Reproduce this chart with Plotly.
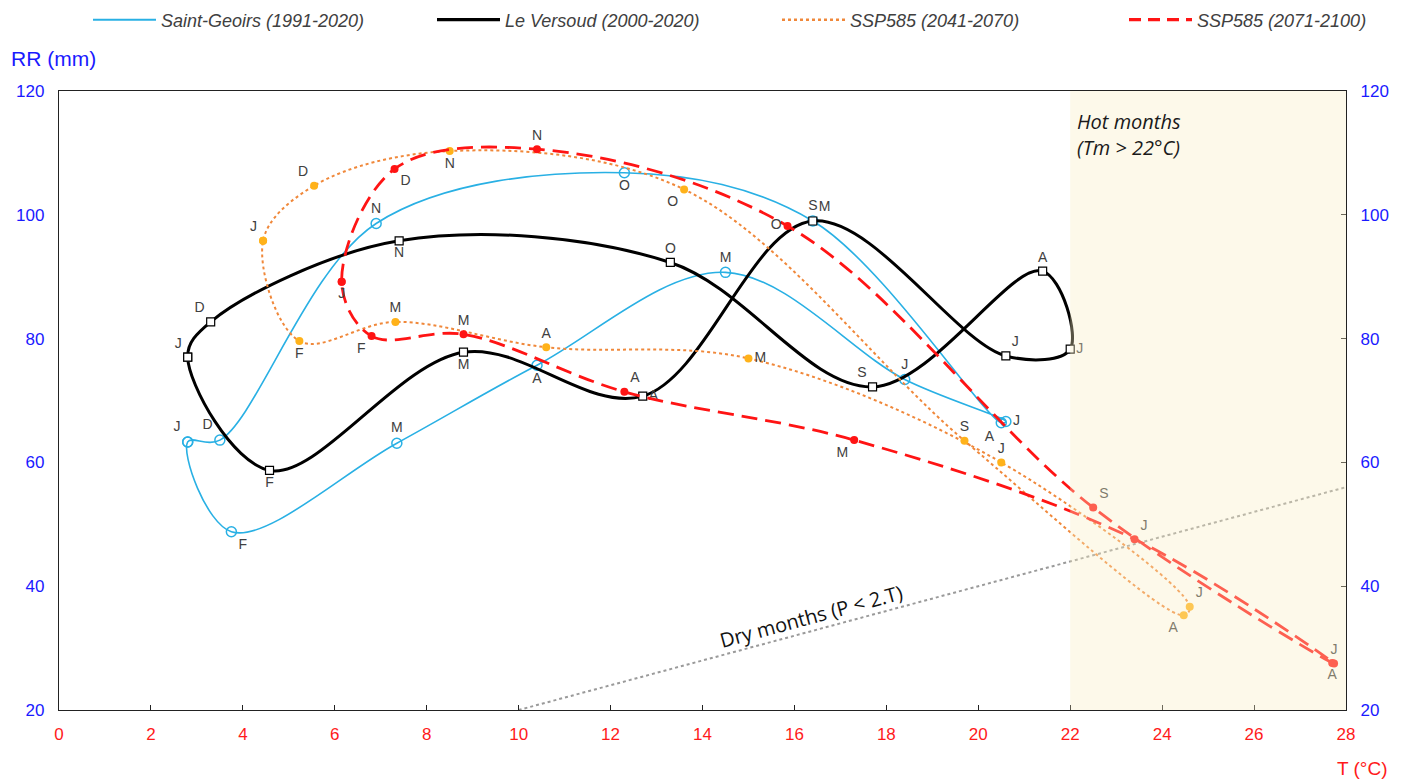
import plotly.graph_objects as go

MONTHS = ["J", "F", "M", "A", "M", "J", "J", "A", "S", "O", "N", "D", "J"]

# Saint-Geoirs (1991-2020)
SG_T = [2.8, 3.75, 7.35, 10.4, 14.5, 18.4, 20.6, 20.5, 16.4, 12.3, 6.9, 3.5, 2.8]
SG_P = [63.3, 48.8, 63.1, 75.7, 90.7, 73.4, 66.6, 66.4, 99.0, 106.8, 98.6, 63.6, 63.3]

# Le Versoud (2000-2020)
LV_T = [2.8, 4.58, 8.8, 12.7, 16.4, 20.6, 22.0, 21.4, 17.7, 13.3, 7.4, 3.3, 2.8]
LV_P = [77.0, 58.7, 77.8, 70.7, 99.0, 77.2, 78.3, 90.9, 72.2, 92.3, 95.8, 82.7, 77.0]

# SSP585 (2041-2070)
S1_T = [4.44, 5.23, 7.32, 10.6, 15.0, 20.5, 24.6, 24.47, 19.7, 13.6, 8.5, 5.55, 4.44]
S1_P = [95.8, 79.6, 82.7, 78.6, 76.8, 60.0, 36.7, 35.3, 63.5, 104.1, 110.3, 104.7, 95.8]

# SSP585 (2071-2100)
S2_T = [6.15, 6.8, 8.8, 12.3, 17.3, 23.4, 27.74, 27.7, 22.5, 15.85, 10.4, 7.3, 6.15]
S2_P = [89.2, 80.4, 80.7, 71.4, 63.6, 47.6, 27.5, 27.6, 52.7, 98.2, 110.6, 107.4, 89.2]

# Dry months line P = 2T
DRY_T = [10, 28]
DRY_P = [20, 56]

HOT_T0, HOT_T1 = 22, 28

# label placement (style)
SG_POS = ["top left", "bottom right", "top center", "bottom center", "top center", "top center",
          "middle right", "bottom left", "top center", "bottom center", "top center", "top left", "none"]
LV_POS = ["top left", "bottom center", "bottom center", "middle right", "top right", "top right",
          "middle right", "top center", "top left", "top center", "bottom center", "top left", "none"]
S1_POS = ["top left", "bottom center", "top center", "top center", "middle right", "top center",
          "top right", "bottom left", "top center", "bottom left", "bottom center", "top left", "none"]
S2_POS = ["bottom center", "bottom left", "top center", "top right", "bottom left", "top right",
          "top center", "bottom center", "top right", "middle left", "top center", "bottom right", "none"]

LABEL_FONT = dict(family="Liberation Sans, Arial", size=14, color="#404040")


def labels(pos):
    return [m if p != "none" else "" for m, p in zip(MONTHS, pos)]


def tpos(pos):
    return [p if p != "none" else "top center" for p in pos]


fig = go.Figure()

fig.add_trace(go.Scatter(x=DRY_T, y=DRY_P, mode="lines", showlegend=False,
                         line=dict(color="#9a9a9a", width=2, dash="dot"), hoverinfo="skip"))

CYAN = "#29B0E4"
ORANGE = "#F0883A"
GOLD = "#FFB21A"
RED = "#FF1414"

fig.add_trace(go.Scatter(
    x=SG_T, y=SG_P, mode="lines+markers+text", showlegend=False,
    line=dict(color=CYAN, width=1.6, shape="spline", smoothing=1),
    marker=dict(symbol="circle-open", size=10, color=CYAN, line=dict(width=1.5)),
    text=labels(SG_POS), textposition=tpos(SG_POS), textfont=LABEL_FONT))

fig.add_trace(go.Scatter(
    x=LV_T, y=LV_P, mode="lines+markers+text", showlegend=False,
    line=dict(color="#000000", width=3, shape="spline", smoothing=1),
    marker=dict(symbol="square", size=8, color="white", line=dict(width=1.2, color="#000000")),
    text=labels(LV_POS), textposition=tpos(LV_POS), textfont=LABEL_FONT))

fig.add_trace(go.Scatter(
    x=S1_T, y=S1_P, mode="lines+markers+text", showlegend=False,
    line=dict(color=ORANGE, width=2, shape="spline", smoothing=1, dash="dot"),
    marker=dict(symbol="circle", size=8, color=GOLD),
    text=labels(S1_POS), textposition=tpos(S1_POS), textfont=LABEL_FONT))

fig.add_trace(go.Scatter(
    x=S2_T, y=S2_P, mode="lines+markers+text", showlegend=False,
    line=dict(color=RED, width=2.8, shape="spline", smoothing=1, dash="16px,8px"),
    marker=dict(symbol="circle", size=8, color=RED),
    text=labels(S2_POS), textposition=tpos(S2_POS), textfont=LABEL_FONT))

# legend entries (one legend per entry, to reproduce the spacing)
LEG_NAMES = ["Saint-Geoirs (1991-2020)", "Le Versoud (2000-2020)", "SSP585 (2041-2070)", "SSP585 (2071-2100)"]
LEG_LINES = [dict(color=CYAN, width=2), dict(color="#000000", width=3.2),
             dict(color=ORANGE, width=2.5, dash="dot"), dict(color=RED, width=3.2, dash="12px,7px")]
LEG_IDS = ["legend", "legend2", "legend3", "legend4"]
LEG_X = [94, 438, 783, 1130]  # pixel start of each legend line (layout)

for name, ln, lid in zip(LEG_NAMES, LEG_LINES, LEG_IDS):
    fig.add_trace(go.Scatter(x=[None], y=[None], mode="lines", name=name, line=ln, legend=lid))

# hot months overlay
fig.add_shape(type="rect", xref="x", yref="y", x0=HOT_T0, x1=HOT_T1, y0=20, y1=120,
              fillcolor="rgba(249,238,195,0.35)", line=dict(width=0), layer="above")

fig.add_annotation(xref="x", yref="y", x=HOT_T0, y=117.5, xshift=5, xanchor="left", yanchor="top",
                   align="left", showarrow=False,
                   text="<i>Hot months<br>(Tm > 22°C)</i>",
                   font=dict(family="Open Sans", size=20, color="#1a1a1a"))

fig.add_annotation(xref="x", yref="y", x=16.35, y=35.1, showarrow=False, textangle=-15.1,
                   text="Dry months (P < 2.T)",
                   font=dict(family="Open Sans", size=20, color="#111111"))

fig.add_annotation(xref="paper", yref="paper", x=-0.039, y=1.0533, xanchor="left", yanchor="middle",
                   showarrow=False, text="RR (mm)",
                   font=dict(family="Liberation Sans, Arial", size=21, color="#1a1aff"))
fig.add_annotation(xref="paper", yref="paper", x=1.0342, y=-0.0945, xanchor="right", yanchor="middle",
                   showarrow=False, text="T (°C)",
                   font=dict(family="Liberation Sans, Arial", size=19, color="#ff1a1a"))

TICKFONT_X = dict(family="Liberation Sans, Arial", size=17, color="#ff1a1a")
TICKFONT_Y = dict(family="Liberation Sans, Arial", size=17, color="#1a1aff")

W, H = 1404, 782
legend_common = dict(orientation="h", xref="container", yref="container", xanchor="left",
                     yanchor="middle", y=1 - 20 / H, itemwidth=63,
                     font=dict(family="Liberation Sans, Arial", size=18, color="#404040", style="italic"),
                     bgcolor="rgba(0,0,0,0)")
legends = {lid: dict(legend_common, x=(px - 6) / W) for lid, px in zip(LEG_IDS, LEG_X)}

fig.update_layout(
    width=W, height=H,
    margin=dict(l=59, r=58, t=91, b=72, autoexpand=False),
    plot_bgcolor="white", paper_bgcolor="white",
    showlegend=True,
    xaxis=dict(range=[0, 28], dtick=2, tick0=0, showgrid=False, zeroline=False,
               showline=True, linecolor="#222", linewidth=1.3, mirror=True,
               ticks="inside", ticklen=5, tickcolor="#222", tickfont=TICKFONT_X,
               ticklabelstandoff=8),
    yaxis=dict(range=[20, 120], dtick=20, showgrid=False, zeroline=False,
               showline=True, linecolor="#222", linewidth=1.3,
               ticks="", tickfont=TICKFONT_Y, ticklabelstandoff=10),
    yaxis2=dict(range=[20, 120], dtick=20, overlaying="y", side="right", showgrid=False,
                zeroline=False, showline=True, linecolor="#222", linewidth=1.3,
                ticks="inside", ticklen=5, tickcolor="#222", tickfont=TICKFONT_Y,
                ticklabelstandoff=10),
    **legends,
)

fig.add_trace(go.Scatter(x=[None], y=[None], yaxis="y2", showlegend=False, hoverinfo="skip"))

fig.write_html("out.html", config={"displayModeBar": False},
               post_script="document.body.style.margin='0';document.body.style.overflow='hidden';")
